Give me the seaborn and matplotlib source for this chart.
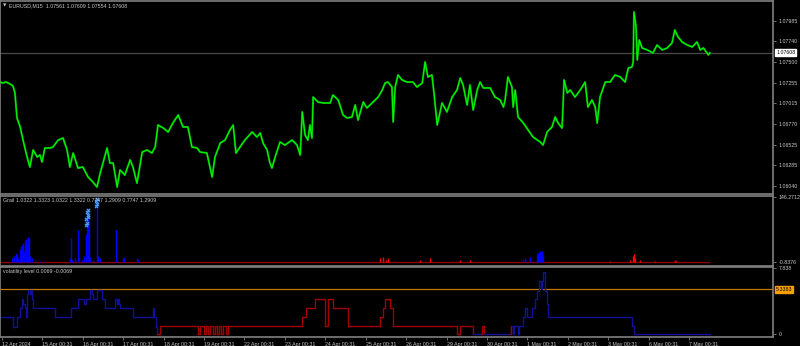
import numpy as np
import pandas as pd
import matplotlib
matplotlib.use("Agg")
import matplotlib.pyplot as plt
import seaborn as sns

sns.set_theme(style="dark")
plt.rcParams['font.family'] = ['Liberation Sans', 'DejaVu Sans']

# ---------------- data ----------------
# main price (time in trading days from 12 Apr 00:31)
price_t = [-0.05, 0.02, 0.10, 0.20, 0.27, 0.32, 0.37, 0.45, 0.52, 0.62, 0.69, 0.77, 0.87, 0.94, 0.99,
           1.06, 1.19, 1.26, 1.39, 1.51, 1.61, 1.68, 1.76, 1.88, 2.00, 2.13, 2.25, 2.35, 2.43, 2.60,
           2.67, 2.75, 2.85, 2.92, 3.04, 3.17, 3.24, 3.34, 3.47, 3.59, 3.71, 3.79, 3.86, 3.99, 4.11,
           4.23, 4.36, 4.48, 4.60, 4.70, 4.83, 4.90, 5.07, 5.20, 5.27, 5.40, 5.52, 5.64, 5.72, 5.79,
           5.89, 6.01, 6.19, 6.31, 6.39, 6.46, 6.56, 6.63, 6.68, 6.76, 6.88, 7.00, 7.18, 7.30, 7.38,
           7.43, 7.50, 7.57, 7.62, 7.67, 7.70, 7.82, 7.95, 8.12, 8.19, 8.32, 8.44, 8.54, 8.66, 8.74,
           8.81, 8.94, 9.03, 9.18, 9.31, 9.41, 9.48, 9.55, 9.65, 9.68, 9.73, 9.80, 9.90, 10.02, 10.17,
           10.27, 10.40, 10.47, 10.54, 10.64, 10.69, 10.77, 10.89, 11.01, 11.14, 11.26, 11.34, 11.41,
           11.51, 11.58, 11.66, 11.76, 11.83, 11.91, 12.08, 12.20, 12.33, 12.41, 12.45, 12.52, 12.62,
           12.65, 12.70, 12.77, 12.90, 13.02, 13.14, 13.32, 13.39, 13.49, 13.61, 13.69, 13.76, 13.86,
           13.91, 13.99, 14.06, 14.18, 14.31, 14.43, 14.50, 14.60, 14.68, 14.73, 14.80, 14.93, 15.05,
           15.17, 15.30, 15.42, 15.50, 15.59, 15.62, 15.64, 15.69, 15.72, 15.77, 15.84, 15.97, 16.11,
           16.21, 16.34, 16.46, 16.58, 16.65, 16.73, 16.83, 16.96, 17.08, 17.20, 17.28, 17.36, 17.48,
           17.52]
price_v = [1.07262, 1.07250, 1.07262, 1.07239, 1.07215, 1.07133, 1.06838, 1.06732, 1.06578, 1.06378,
           1.06260, 1.06461, 1.06378, 1.06402, 1.06319, 1.06484, 1.06484, 1.06496, 1.06578, 1.06602,
           1.06461, 1.06260, 1.06425, 1.06248, 1.06260, 1.06142, 1.06083, 1.06024, 1.06189, 1.06484,
           1.06307, 1.06307, 1.06024, 1.06225, 1.06166, 1.06343, 1.06260, 1.06071, 1.06437, 1.06461,
           1.06425, 1.06496, 1.06755, 1.06720, 1.06673, 1.06779, 1.06873, 1.06732, 1.06732, 1.06496,
           1.06484, 1.06437, 1.06425, 1.06142, 1.06378, 1.06543, 1.06578, 1.06696, 1.06755, 1.06425,
           1.06496, 1.06578, 1.06673, 1.06614, 1.06661, 1.06543, 1.06461, 1.06307, 1.06248, 1.06378,
           1.06555, 1.06519, 1.06578, 1.06519, 1.06402, 1.06909, 1.06637, 1.06578, 1.06755, 1.06602,
           1.07085, 1.07026, 1.07015, 1.07015, 1.07109, 1.07050, 1.06873, 1.06838, 1.06850, 1.06991,
           1.06814, 1.07026, 1.06956, 1.07026, 1.07085, 1.07168, 1.07250, 1.07262, 1.07203, 1.06791,
           1.07203, 1.07345, 1.07286, 1.07262, 1.07262, 1.07203, 1.07250, 1.07498, 1.07321, 1.07345,
           1.07133, 1.06755, 1.07015, 1.06909, 1.07085, 1.07168, 1.07309, 1.07227, 1.06991, 1.07227,
           1.06932, 1.07168, 1.07262, 1.07192, 1.07192, 1.07085, 1.07050, 1.06967, 1.07050, 1.07321,
           1.07203, 1.06967, 1.07168, 1.06850, 1.06779, 1.06696, 1.06614, 1.06555, 1.06519, 1.06673,
           1.06732, 1.06850, 1.06779, 1.06720, 1.07286, 1.07133, 1.07168, 1.07085, 1.07168, 1.07262,
           1.06967, 1.07050, 1.06967, 1.06779, 1.07085, 1.07262, 1.07262, 1.07345, 1.07321, 1.07262,
           1.07427, 1.07439, 1.07498, 1.08088, 1.07911, 1.07522, 1.07757, 1.07663, 1.07640, 1.07604,
           1.07698, 1.07640, 1.07663, 1.07722, 1.07875, 1.07793, 1.07734, 1.07698, 1.07675, 1.07734,
           1.07640, 1.07663, 1.07581, 1.07608]
current_price = 1.07608
price_ticks = [1.07985, 1.07740, 1.07500, 1.07255, 1.07015, 1.06770, 1.06525, 1.06285, 1.06040]

# Grail histogram
grail_blue_t = [0.25, 0.30, 0.35, 0.37, 0.40, 0.45, 0.47, 0.50, 0.52, 0.54, 0.57, 0.59, 0.62, 0.64,
                0.67, 0.69, 0.74, 0.82, 0.94, 1.06, 1.68, 1.71, 1.73, 1.81, 1.88, 1.91, 1.98, 2.03,
                2.08, 2.10, 2.13, 2.15, 2.18, 2.25, 2.35, 2.38, 2.43, 2.82, 2.85, 3.00, 3.02, 3.34,
                3.37, 12.90, 12.95, 13.07, 13.24, 13.27, 13.29, 13.32, 13.34, 13.37, 13.39]
grail_blue_v = [7, 13, 20, 18, 7, 29, 35, 38, 42, 24, 47, 51, 40, 55,
                53, 13, 7, 4, 2, 2, 7, 53, 4, 9, 71, 11, 4, 13,
                62, 117, 109, 91, 11, 4, 140, 13, 7, 71, 4, 9, 11, 9,
                4, 4, 9, 11, 18, 20, 22, 24, 22, 24, 15]
grail_red_t = [9.36, 9.43, 9.50, 9.55, 10.35, 10.59, 11.34, 11.58, 15.05, 15.54, 15.62, 15.64,
               15.67, 15.79, 16.16, 16.66, 16.68]
grail_red_v = [7, 11, 4, 9, 4, 7, 4, 4, 2, 4, 13, 18, 7, 4, 2, 4, 2]
grail_mark_t = [2.08, 2.10, 2.08, 2.12, 2.13, 2.10, 2.14, 2.33, 2.35, 2.33, 2.35]
grail_mark_v = [82, 88, 95, 100, 106, 112, 117, 126, 131, 136, 141]
grail_label = "Grail 1.0322 1.3323 1.0322 1.3322 0.7747 1.2909 0.7747 1.2909"

# volatility level (step lines, alternating colour runs)
vol_runs = [
    ("blue", [-0.05, 0.27, 0.37, 0.45, 0.50, 0.52, 0.57, 0.59, 0.62, 0.64, 0.69, 0.72, 0.74, 0.77,
              1.31, 1.71, 1.88, 2.03, 2.08, 2.18, 2.23, 2.25, 2.35, 2.48, 2.55, 2.80, 2.85, 2.87,
              2.90, 2.92, 3.24, 3.74, 3.76, 3.81, 3.84],
             [2.04, 0.91, 2.04, 3.18, 4.20, 3.64, 3.18, 2.04, 4.77, 5.23, 4.77, 5.23, 4.20, 3.18,
              2.04, 3.18, 4.20, 3.64, 4.20, 5.23, 4.77, 4.20, 5.23, 4.20, 3.18, 4.20, 3.64, 4.20,
              3.64, 3.18, 2.04, 3.18, 2.04, 0.91, 0.0]),
    ("red", [3.84, 3.91, 4.85, 4.90, 5.00, 5.05, 5.10, 5.15, 5.22, 5.27, 5.32, 5.37, 5.42, 5.47,
             5.54, 5.59, 7.43, 7.52, 7.75, 8.00, 8.07, 8.19, 8.56, 9.36, 9.43, 9.48, 9.60, 9.68,
             11.26, 11.34, 11.66],
            [0.0, 1.02, 0.0, 1.02, 0.0, 1.02, 0.0, 1.02, 0.0, 1.02, 0.0, 1.02, 0.0, 1.02,
             0.0, 1.02, 2.04, 3.18, 4.20, 1.02, 4.20, 3.18, 1.02, 2.04, 3.18, 4.20, 3.18, 1.02,
             0.0, 1.02, 0.0]),
    ("blue", [11.66, 11.86], [0.0, 0.0]),
    ("red", [11.86, 11.88, 11.93], [0.0, 1.02, 0.0]),
    ("blue", [11.93, 12.57], [0.0, 0.0]),
    ("red", [12.57, 12.60, 12.62], [0.0, 1.02, 1.02]),
    ("blue", [12.62, 12.65, 12.67, 12.77, 12.80, 12.90, 12.95, 13.00, 13.12, 13.19, 13.24, 13.29,
              13.34, 13.37, 13.39, 13.44, 13.49, 13.51, 15.59, 15.64, 17.52],
             [1.02, 0.0, 1.02, 0.0, 1.02, 2.04, 3.18, 2.04, 3.18, 4.20, 5.11, 6.36,
              5.45, 6.36, 7.38, 5.11, 3.64, 2.04, 1.02, 0.0, 0.0]),
]
vol_level = 5.3383
vol_label = "volatility level 0.0069 -0.0069"

date_labels = ["12 Apr 2024", "15 Apr 00:31", "16 Apr 00:31", "17 Apr 00:31", "18 Apr 00:31",
               "19 Apr 00:31", "22 Apr 00:31", "23 Apr 00:31", "24 Apr 00:31", "25 Apr 00:31",
               "26 Apr 00:31", "29 Apr 00:31", "30 Apr 00:31", "1 May 00:31", "2 May 00:31",
               "3 May 00:31", "6 May 00:31", "7 May 00:31"]

# ---------------- figure ----------------
W, H = 800, 346
fig = plt.figure(figsize=(W / 100, H / 100), dpi=100, facecolor="black")

def px_axes(x0, y0, x1, y1):
    return fig.add_axes([x0 / W, 1 - y1 / H, (x1 - x0) / W, (y1 - y0) / H])

ax_main = px_axes(0, 1, 773, 194)
ax_grail = px_axes(0, 196, 773, 266)
ax_vol = px_axes(0, 267, 773, 337)

XL = (-0.05, 19.08)
GREY = "#808080"
TXT = "#c8c8c8"
FS = 3.8

for ax in (ax_main, ax_grail, ax_vol):
    ax.set_facecolor("black")
    ax.set_xlim(*XL)
    for s in ax.spines.values():
        s.set_color(GREY)
        s.set_linewidth(1.2)
    ax.grid(False)
    ax.yaxis.tick_right()
    ax.tick_params(axis="y", colors=GREY, labelcolor=TXT, labelsize=FS, length=2.5, width=0.6,
                   pad=1.5, right=True, left=False, labelright=True, labelleft=False)
    ax.set_xlabel("")
    ax.set_ylabel("")

# main panel
ax_main.set_ylim(1.05942, 1.08217)
ax_main.axhline(current_price, color="#4a4a4a", lw=0.9, zorder=1)
sns.lineplot(x=price_t, y=price_v, ax=ax_main, color="#009a00", lw=1.5, estimator=None, sort=False, zorder=2)
sns.lineplot(x=price_t, y=price_v, ax=ax_main, color="#00ff00", lw=0.7, estimator=None, sort=False, zorder=3)
ax_main.set_yticks(price_ticks)
ax_main.set_yticklabels([f"{p:.5f}" for p in price_ticks])
ax_main.set_xticks([])
ax_main.text(1.004, current_price, f"{current_price:.5f}", transform=ax_main.get_yaxis_transform(),
             fontsize=FS, color="black", va="center", ha="left", clip_on=False,
             bbox=dict(boxstyle="square,pad=0.15", fc="white", ec="white"))
fig.text(3 / W, 1 - 5.5 / H, "\u25bc", fontsize=3.2, color=TXT, va="center", ha="left",
         family="DejaVu Sans")
fig.text(9 / W, 1 - 5.5 / H, "EURUSD,M15  1.07561 1.07609 1.07554 1.07608", fontsize=FS,
         color=TXT, va="center", ha="left")

# grail panel
ax_grail.set_ylim(-10, 148)
ax_grail.hlines(0, price_t[0], price_t[-1], color="#8b0000", lw=1.0, zorder=1)
ax_grail.vlines(grail_blue_t, 0, grail_blue_v, color="#0000ff", lw=1.0, zorder=2)
ax_grail.vlines(grail_red_t, 0, grail_red_v, color="#ff0000", lw=1.0, zorder=2)
sns.scatterplot(x=grail_mark_t, y=grail_mark_v, ax=ax_grail, marker="x", color="#4aa0ff",
                s=6, linewidth=0.8, zorder=3)
ax_grail.set_yticks([146.2712, 0])
ax_grail.set_yticklabels(["146.2712", "-0.8376"])
ax_grail.set_xticks([])
ax_grail.text(3 / 773, 1 - 4.5 / 70, grail_label, transform=ax_grail.transAxes, fontsize=FS,
              color=TXT, va="center", ha="left")

# volatility panel
ax_vol.set_ylim(-0.3, 8.0)
ax_vol.axhline(vol_level, color="#c07800", lw=0.9, zorder=1)
colors = {"blue": "#10109a", "red": "#a00000"}
for c, tt, vv in vol_runs:
    sns.lineplot(x=tt, y=vv, ax=ax_vol, color=colors[c], lw=1.0, drawstyle="steps-post",
                 estimator=None, sort=False, zorder=2)
ax_vol.set_yticks([7.838, 0])
ax_vol.set_yticklabels(["7.838", "0"])
ax_vol.text(1.004, vol_level, f"{vol_level:.4f}", transform=ax_vol.get_yaxis_transform(),
            fontsize=FS, color="black", va="center", ha="left", clip_on=False,
            bbox=dict(boxstyle="square,pad=0.15", fc="#f5a000", ec="#f5a000"))
ax_vol.text(3 / 773, 1 - 4.5 / 70, vol_label, transform=ax_vol.transAxes, fontsize=FS,
            color=TXT, va="center", ha="left")
ax_vol.set_xticks(range(len(date_labels)))
ax_vol.set_xticklabels(date_labels)
ax_vol.tick_params(axis="x", colors=GREY, labelcolor=TXT, labelsize=FS, length=2.5, width=0.6,
                   pad=1.0, bottom=True, labelbottom=True)
for lab in ax_vol.get_xticklabels():
    lab.set_horizontalalignment("left")

fig.savefig("out.png", dpi=100, facecolor="black")
